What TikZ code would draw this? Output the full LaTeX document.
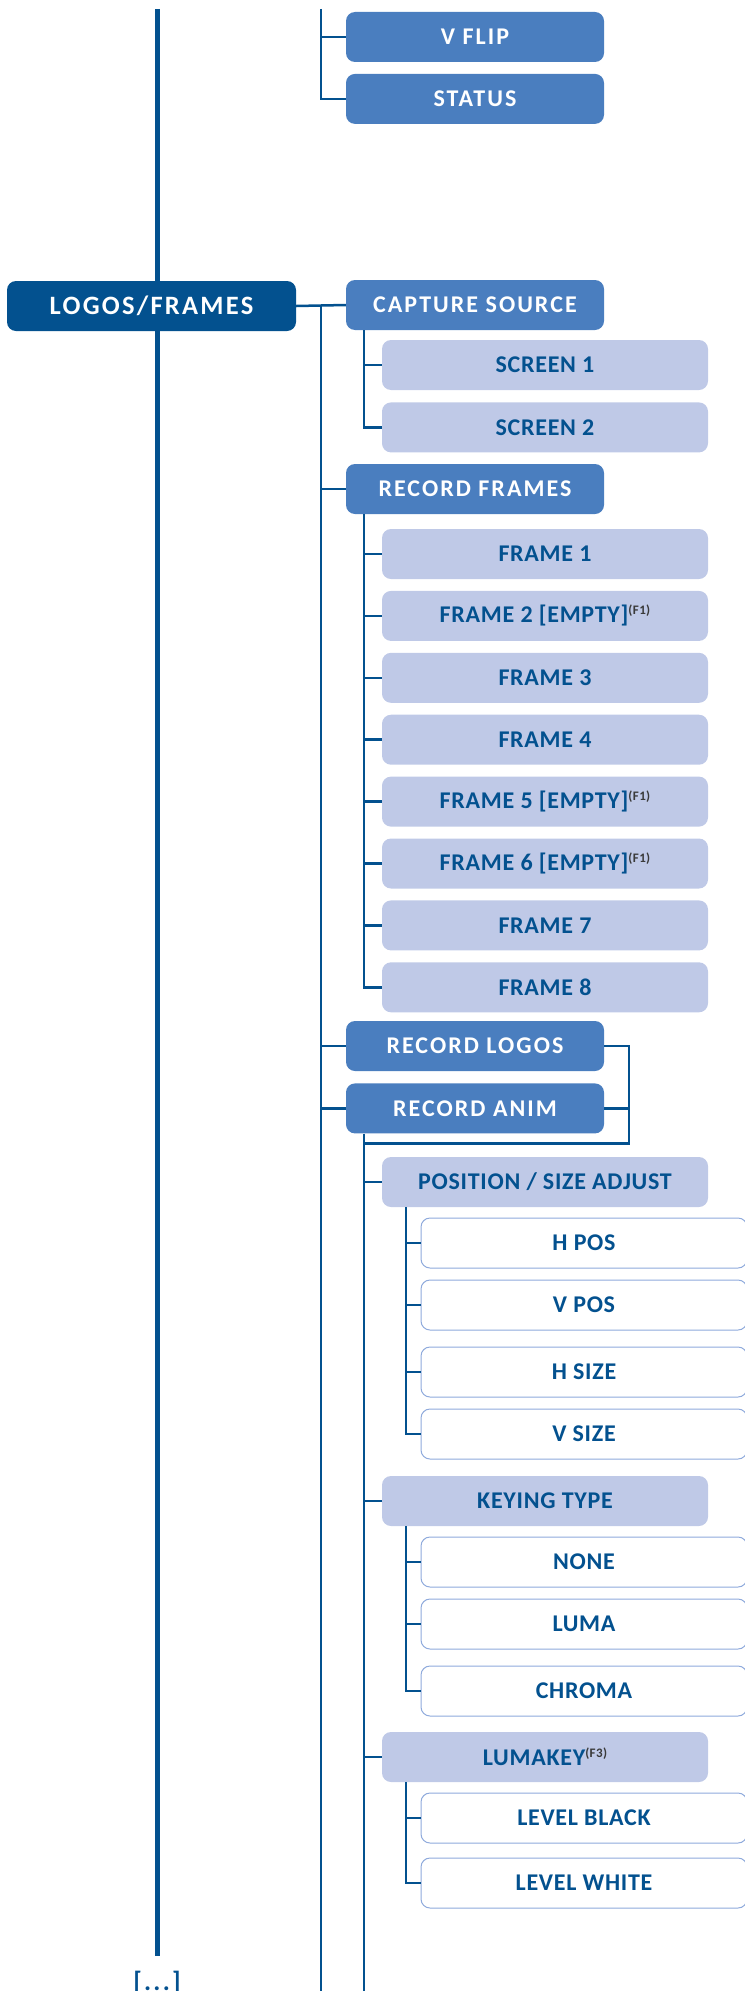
\documentclass[tikz,border=0pt]{standalone}
\usepackage{fontspec}
\setmainfont{Carlito}
\newfontfamily\menufont[LetterSpace=8.5]{Carlito}
\newfontfamily\subfont[LetterSpace=3]{Carlito}
\usetikzlibrary{positioning}

\definecolor{navy}{HTML}{03518F}
\definecolor{midblue}{HTML}{4A7EBF}
\definecolor{lavender}{HTML}{BFC9E7}
\definecolor{paleblue}{HTML}{8FAADC}
\definecolor{notegray}{HTML}{3A3A3A}

\newcommand{\supnote}[1]{\raisebox{8pt}{\subfont\fontsize{13}{13}\selectfont\bfseries\color{notegray}(#1)}}

\begin{document}
\begin{tikzpicture}[
x=1pt, y=-1pt,
every node/.style={
rounded corners=9pt,
align=center,
inner sep=0pt,
minimum height=50pt,
font=\subfont\fontsize{24}{28}\selectfont\bfseries
},
topmenu/.style={fill=navy, text=white, minimum width=289pt, font=\menufont\fontsize{26.5}{30}\selectfont\bfseries},
menu/.style={fill=midblue, text=white, minimum width=258pt, font=\menufont\fontsize{24}{28}\selectfont\bfseries},
submenu/.style={fill=lavender, text=navy, minimum width=326pt},
choice/.style={draw=paleblue, line width=1pt, fill=white, text=navy, minimum width=326pt},
link/.style={draw=navy, line width=2.5pt},
trunk/.style={draw=navy, line width=5pt},
node distance=11.5pt
]
\useasboundingbox (0,0) rectangle (744,1991);

% ------------------------
% Main menu trunk (left)
% ------------------------
\coordinate (maintop) at (157,9);
\coordinate (mainend) at (157,1956);
\coordinate (toptrunk) at (321,9);
\coordinate (trunkend) at (321,1995);
\draw[trunk] (maintop) -- (mainend);

\node[text=navy, anchor=base, minimum height=0pt, font=\menufont\fontsize{26.5}{30}\selectfont\bfseries]
(more) at (157,1990) {[...]};

% ------------------------
% End of the previous menu
% ------------------------
\node[menu] (vflip) at (475,37) {V FLIP};
\node[menu, below=of vflip] (status) {STATUS};

% ------------------------
% Logos/frames menu
% ------------------------
\node[topmenu] (logos) at (151.5,306) {LOGOS/FRAMES};

\node[menu] (capture) at (475,305) {CAPTURE SOURCE};
\node[submenu] (screen1) at (545,365) {SCREEN 1};
\node[submenu, below=12pt of screen1] (screen2) {SCREEN 2};

\node[menu] (recframes) at (475,489) {RECORD FRAMES};
\node[submenu] (frame1) at (545,554) {FRAME 1};
\node[submenu, below=of frame1] (frame2) {FRAME 2 [EMPTY]\supnote{F1}};
\node[submenu, below=of frame2] (frame3) {FRAME 3};
\node[submenu, below=of frame3] (frame4) {FRAME 4};
\node[submenu, below=of frame4] (frame5) {FRAME 5 [EMPTY]\supnote{F1}};
\node[submenu, below=of frame5] (frame6) {FRAME 6 [EMPTY]\supnote{F1}};
\node[submenu, below=of frame6] (frame7) {FRAME 7};
\node[submenu, below=of frame7] (frame8) {FRAME 8};

\node[menu] (reclogos) at (475,1046) {RECORD LOGOS};
\node[menu, below=12pt of reclogos] (recanim) {RECORD ANIM};

% Shared settings of logos and animation
\node[submenu] (posadj) at (545,1182) {POSITION / SIZE ADJUST};
\node[choice] (hpos) at (584,1243) {H POS};
\node[choice, below=11pt of hpos] (vpos) {V POS};
\node[choice] (hsize) at (584,1372) {H SIZE};
\node[choice, below=11pt of hsize] (vsize) {V SIZE};

\node[submenu] (keying) at (545,1501) {KEYING TYPE};
\node[choice] (none) at (584,1562) {NONE};
\node[choice, below=11pt of none] (luma) {LUMA};
\node[choice] (chroma) at (584,1691) {CHROMA};

\node[submenu] (lumakey) at (545,1757) {LUMAKEY\supnote{F3}};
\node[choice] (lvlblack) at (584,1818) {LEVEL BLACK};
\node[choice, below=14pt of lvlblack] (lvlwhite) {LEVEL WHITE};

% ------------------------
% Connectors
% ------------------------
\draw[link] (toptrunk) |- (status.west);
\draw[link] (vflip.west) -- (vflip.west -| toptrunk);

\draw[link] (logos.east) -- (capture.west);
\draw[link] (logos.east -| toptrunk) -- (trunkend);
\draw[link] (recframes.west) -- (recframes.west -| toptrunk);
\draw[link] (reclogos.west) -- (reclogos.west -| toptrunk);
\draw[link] (recanim.west) -- (recanim.west -| toptrunk);

% Capture source
\draw[link] ([xshift=18pt]capture.south west) |- (screen2.west);
\draw[link] (screen1.west) -- +(-18,0);

% Record frames
\draw[link] ([xshift=18pt]recframes.south west) |- (frame8.west);
\draw[link] (frame1.west) -- +(-18,0);
\draw[link] (frame2.west) -- +(-18,0);
\draw[link] (frame3.west) -- +(-18,0);
\draw[link] (frame4.west) -- +(-18,0);
\draw[link] (frame5.west) -- +(-18,0);
\draw[link] (frame6.west) -- +(-18,0);
\draw[link] (frame7.west) -- +(-18,0);

% Logos and animation joined
\draw[link] (reclogos.east) -| ([xshift=25pt, yshift=-10pt]recanim.south east)
  -| ([xshift=18pt]recanim.south west);
\draw[link] (recanim.east) -- +(25,0);
\draw[link] ([xshift=18pt]recanim.south west) -- +(0,870);
\draw[link] (posadj.west) -- +(-18,0);
\draw[link] (keying.west) -- +(-18,0);
\draw[link] (lumakey.west) -- +(-18,0);

% Third level
\draw[link] ([xshift=24pt]posadj.south west) |- (vsize.west);
\draw[link] (hpos.west) -- +(-15,0);
\draw[link] (vpos.west) -- +(-15,0);
\draw[link] (hsize.west) -- +(-15,0);

\draw[link] ([xshift=24pt]keying.south west) |- (chroma.west);
\draw[link] (none.west) -- +(-15,0);
\draw[link] (luma.west) -- +(-15,0);

\draw[link] ([xshift=24pt]lumakey.south west) |- (lvlwhite.west);
\draw[link] (lvlblack.west) -- +(-15,0);

\end{tikzpicture}
\end{document}
